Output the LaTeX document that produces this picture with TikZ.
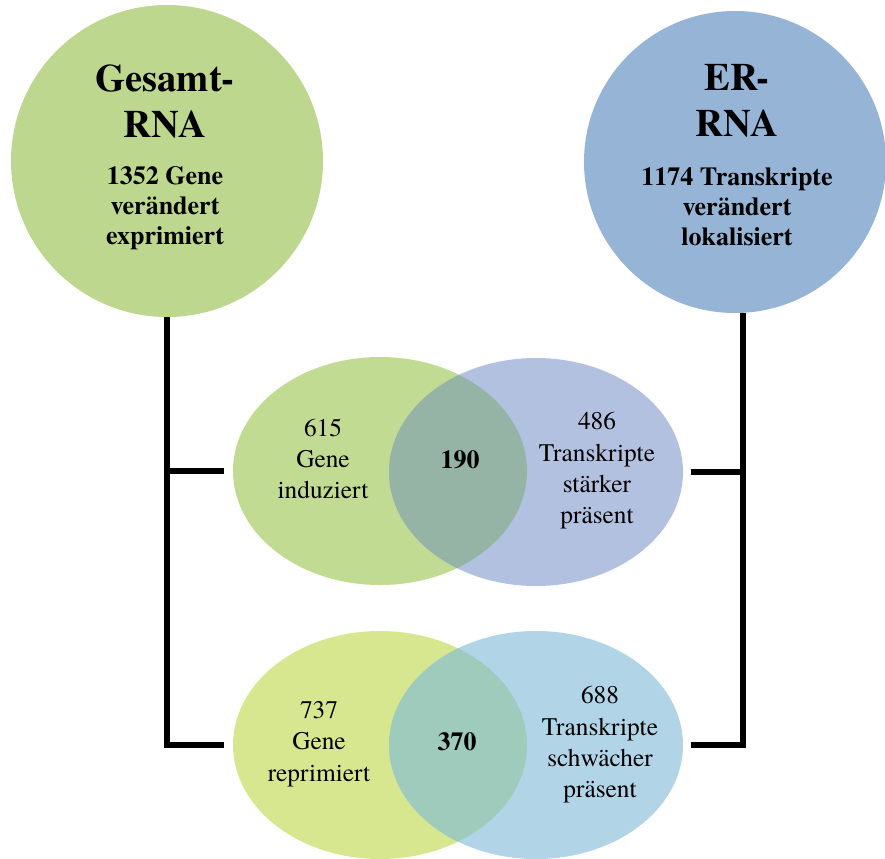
\documentclass[tikz,border=0pt]{standalone}
\usepackage{fontspec}
\setmainfont{texgyretermes-regular.otf}[BoldFont=texgyretermes-bold.otf]
\usetikzlibrary{shapes.geometric}
\definecolor{gesamtgruen}{HTML}{BDD78E}
\definecolor{erblau}{HTML}{96B4D6}
\definecolor{indgruen}{HTML}{C2DB93}
\definecolor{staerkblau}{HTML}{B3C1E0}
\definecolor{schnittoben}{HTML}{96B4A5}
\definecolor{reprgelb}{HTML}{D7E78F}
\definecolor{schwachblau}{HTML}{B1D4E7}
\definecolor{schnittunten}{HTML}{9ECBBB}
\tikzset{
  bigcirc/.style={circle, inner sep=0pt},
  venn/.style={ellipse, inner sep=0pt, minimum width=220.5pt, minimum height=171pt},
  stem/.style={line width=4.5pt, line join=miter},
  circtitle/.style={font=\bfseries\fontsize{29}{34.5}\selectfont, align=center},
  circsub/.style={font=\bfseries\fontsize{19.5}{22.5}\selectfont, align=center},
  venntext/.style={font=\fontsize{19}{23.5}\selectfont, align=center},
  schnitttext/.style={font=\bfseries\fontsize{19.5}{22.5}\selectfont}
}
\begin{document}
\begin{tikzpicture}[x=0.75pt,y=-0.75pt]
            \useasboundingbox (0,0) rectangle (885,858);
            % grosse Kreise
            \node[bigcirc, fill=gesamtgruen, minimum size=234pt] (gesamt) at (167,161) {};
            \node[bigcirc, fill=erblau, minimum size=226.5pt] (er) at (735,162) {};
            % Venn oben
            \node[venn, fill=indgruen] (ind) at (380,471) {};
            \node[venn, fill=staerkblau] (staerk) at (536,472) {};
            \begin{scope}
                \clip (ind.center) ellipse [x radius=110.25pt, y radius=85.5pt];
                \fill[schnittoben] (staerk.center) ellipse [x radius=110.25pt, y radius=85.5pt];
            \end{scope}
            % Venn unten
            \node[venn, fill=reprgelb] (repr) at (380,745) {};
            \node[venn, fill=schwachblau] (schwach) at (536,745) {};
            \begin{scope}
                \clip (repr.center) ellipse [x radius=110.25pt, y radius=85.5pt];
                \fill[schnittunten] (schwach.center) ellipse [x radius=110.25pt, y radius=85.5pt];
            \end{scope}
            % Klammern
            \coordinate (erfuss) at ([xshift=6pt]er.south);
            \draw[stem, shorten >=6.75pt] (gesamt.south) |- (repr.west);
            \draw[stem, shorten >=6.75pt] (gesamt.south |- ind.west) -- (ind.west);
            \draw[stem, shorten >=6pt] (erfuss) |- (schwach.east);
            \draw[stem, shorten >=6pt] (erfuss |- staerk.east) -- (staerk.east);
            % Texte
            \node[circtitle] (gesamttitel) at (165,101) {Gesamt-\\RNA};
            \node[circsub] (gesamtzahl) at (165,208) {1352 Gene\\verändert\\exprimiert};
            \node[circtitle] (ertitel) at (737,101) {ER-\\RNA};
            \node[circsub] (erzahl) at (737,207) {1174 Transkripte\\verändert\\lokalisiert};
            \node[venntext] (indtext) at (323,459) {615\\Gene\\induziert};
            \node[venntext] (staerktext) at (597,471) {486\\Transkripte\\stärker\\präsent};
            \node[schnitttext] (obenzahl) at (460,460) {190};
            \node[venntext] (reprtext) at (319,744) {737\\Gene\\reprimiert};
            \node[venntext] (schwachtext) at (600,745) {688\\Transkripte\\schwächer\\präsent};
            \node[schnitttext] (untenzahl) at (457,742) {370};
        \end{tikzpicture}
\end{document}
